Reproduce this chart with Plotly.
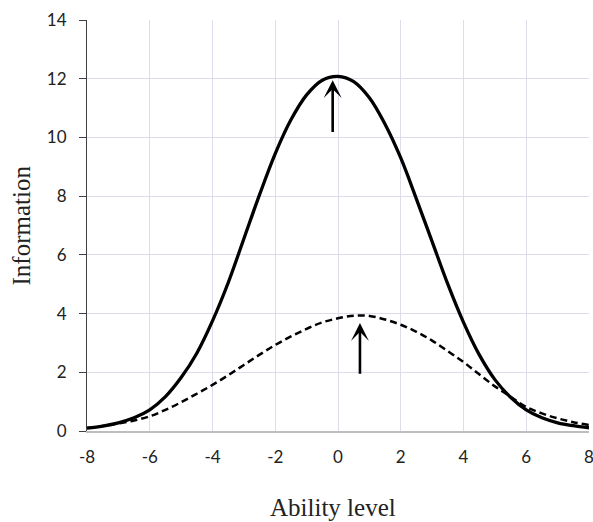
import plotly.graph_objects as go

ability = [-8, -7.5, -7, -6.5, -6, -5.5, -5, -4.5, -4, -3.5, -3, -2.5, -2, -1.5, -1, -0.5,
           0, 0.5, 1, 1.5, 2, 2.5, 3, 3.5, 4, 4.5, 5, 5.5, 6, 6.5, 7, 7.5, 8]
info_solid = [0.10, 0.17, 0.28, 0.45, 0.72, 1.17, 1.82, 2.65, 3.75, 5.05, 6.55, 8.05, 9.45, 10.6,
              11.45, 11.95, 12.08, 11.9, 11.35, 10.45, 9.3, 7.9, 6.45, 5.0, 3.7, 2.6, 1.75,
              1.15, 0.72, 0.45, 0.28, 0.18, 0.11]
info_dashed = [0.10, 0.17, 0.26, 0.36, 0.50, 0.72, 0.98, 1.27, 1.57, 1.90, 2.25, 2.60, 2.93, 3.22,
               3.48, 3.70, 3.84, 3.93, 3.92, 3.80, 3.62, 3.38, 3.08, 2.72, 2.35, 1.93, 1.52,
               1.17, 0.82, 0.60, 0.43, 0.30, 0.20]

# arrows: (x, y_start, y_tip)
arrow_solid = (-0.17, 10.13, 11.95)
arrow_dashed = (0.7, 1.9, 3.68)

x_ticks = [-8, -6, -4, -2, 0, 2, 4, 6, 8]
y_ticks = [0, 2, 4, 6, 8, 10, 12, 14]

fig = go.Figure()
fig.add_trace(go.Scatter(x=ability, y=info_dashed, mode="lines", line_shape="spline",
                         line=dict(color="black", width=2.5, dash="7px,4px"), showlegend=False))
fig.add_trace(go.Scatter(x=ability, y=info_solid, mode="lines", line_shape="spline",
                         line=dict(color="black", width=3.3), showlegend=False))

for ax_x, y0, y1 in (arrow_solid, arrow_dashed):
    fig.add_annotation(x=ax_x, y=y1, ax=ax_x, ay=y0, xref="x", yref="y", axref="x", ayref="y",
                       showarrow=True, arrowhead=3, arrowsize=1.15, arrowwidth=2.6,
                       arrowcolor="black", text="")

fig.add_annotation(text="Information", xref="paper", yref="paper", x=-0.1295, y=0.5,
                   textangle=-90, showarrow=False, xanchor="center", yanchor="middle",
                   font=dict(family="Liberation Serif", size=25, color="#222"))
fig.add_annotation(text="Ability level", xref="paper", yref="paper", x=0.49, y=-0.185,
                   showarrow=False, xanchor="center", yanchor="middle",
                   font=dict(family="Liberation Serif", size=25, color="#222"))

fig.update_layout(
    width=593, height=522,
    margin=dict(l=87, r=4, t=20, b=91),
    paper_bgcolor="white", plot_bgcolor="white",
    font=dict(family="Lato", size=17, color="#222"),
    xaxis=dict(range=[-8, 8], tickvals=x_ticks, ticktext=[str(v) for v in x_ticks],
               showgrid=True, gridcolor="#dcdcea", gridwidth=1, zeroline=False,
               showline=True, linecolor="#bdbdbd", linewidth=2,
               ticks="outside", ticklen=10, tickcolor="rgba(0,0,0,0)",
               ticklabeloverflow="allow", automargin=False),
    yaxis=dict(range=[0, 14], tickvals=y_ticks, ticktext=[str(v) for v in y_ticks],
               showgrid=True, gridcolor="#dcdcea", gridwidth=1, zeroline=False,
               showline=True, linecolor="#404040", linewidth=1, automargin=False,
               ticks="outside", ticklen=7, tickcolor="#404040", ticklabelstandoff=9),
)

fig.write_html("out.html", config={"displayModeBar": False},
               post_script="document.body.style.margin='0';")
